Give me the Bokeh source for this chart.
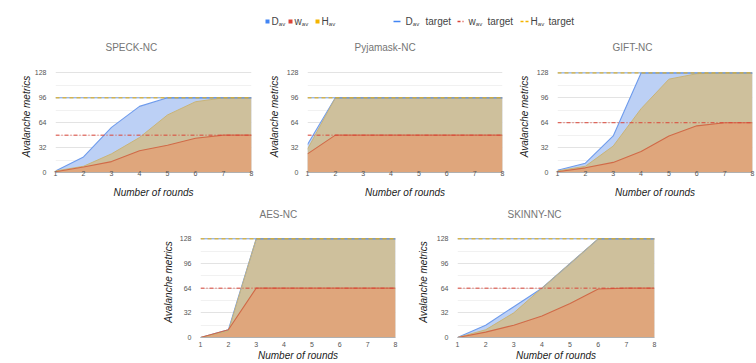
from bokeh.plotting import figure
from bokeh.layouts import column, row, Spacer
from bokeh.models import Range1d, FixedTicker, ColumnDataSource, Span
from bokeh.embed import file_html
from bokeh.resources import INLINE
from bokeh.core.properties import value

# ---------------- data ----------------
rounds = [1, 2, 3, 4, 5, 6, 7, 8]

speck_D = [2, 20, 58, 85, 96, 96, 96, 96]
speck_w = [1, 7, 14, 28, 35, 44, 48, 48]
speck_H = [2, 8, 24, 45, 74, 91, 96, 96]
speck_targets = [96, 48, 96]

pyj_D = [36, 96, 96, 96, 96, 96, 96, 96]
pyj_w = [24, 48, 48, 48, 48, 48, 48, 48]
pyj_H = [30, 96, 96, 96, 96, 96, 96, 96]
pyj_targets = [96, 48, 96]

gift_D = [3, 12, 47, 128, 128, 128, 128, 128]
gift_w = [1, 6, 13, 27, 47, 60, 64, 64]
gift_H = [2, 8, 34, 82, 120, 127, 128, 128]
gift_targets = [128, 64, 128]

aes_D = [0, 10, 128, 128, 128, 128, 128, 128]
aes_w = [0, 10, 64, 64, 64, 64, 64, 64]
aes_H = [0, 8, 128, 128, 128, 128, 128, 128]
aes_targets = [128, 64, 128]

skinny_D = [0, 16, 40, 64, 96, 128, 128, 128]
skinny_w = [0, 7, 16, 28, 44, 63, 64, 64]
skinny_H = [0, 10, 32, 64, 96, 128, 128, 128]
skinny_targets = [128, 64, 128]

y_major = [0, 32, 64, 96, 128]
y_minor = [16, 48, 80, 112, 144]

legend_letters = ["D", "w", "H"]
legend_sub = "av"
legend_target_word = "target"

# ---------------- styles ----------------
FONT = "Liberation Sans"
AREA_D = "#bcd0f5"
AREA_H = "#cec09c"
AREA_W = "#dfa67c"
LINE_D = "#6e9bec"
LINE_H = "#c9b478"
LINE_W = "#d06a48"
T_D = "#4285F4"
T_W = "#DB4437"
T_H = "#F4B400"


def panel(name, D, w, H, targets, width, height, bl, br, bt, bb,
          title_off, title_so, tick_so, xlab_so, ylab_so):
    src = ColumnDataSource(dict(x=rounds, D=D, w=w, H=H, zero=[0] * len(rounds)))
    p = figure(width=width, height=height, x_range=Range1d(1, 8),
               y_range=Range1d(0, 144), output_backend="svg",
               toolbar_location=None, min_border_left=bl, min_border_right=br,
               min_border_top=bt, min_border_bottom=bb)
    p.title.text = name
    p.title.align = "left"
    p.title.offset = title_off
    p.title.text_font = FONT
    p.title.text_font_size = "10px"
    p.title.text_font_style = "normal"
    p.title.text_color = "#757575"
    p.title.standoff = title_so

    p.varea(x="x", y1="zero", y2="D", source=src, fill_color=AREA_D)
    p.varea(x="x", y1="zero", y2="H", source=src, fill_color=AREA_H)
    p.varea(x="x", y1="zero", y2="w", source=src, fill_color=AREA_W)
    p.line(x="x", y="D", source=src, line_color=LINE_D, line_width=1.1)
    p.line(x="x", y="H", source=src, line_color=LINE_H, line_width=1.0)
    p.line(x="x", y="w", source=src, line_color=LINE_W, line_width=1.1)

    p.add_layout(Span(location=targets[0], dimension="width", line_color=T_D,
                      line_width=1, line_alpha=0.7))
    p.add_layout(Span(location=targets[1], dimension="width", line_color=T_W,
                      line_width=1, line_dash="4 2 1 2"))
    p.add_layout(Span(location=targets[2], dimension="width", line_color=T_H,
                      line_width=1, line_dash="4 3"))

    p.xaxis.ticker = FixedTicker(ticks=rounds)
    p.yaxis.ticker = FixedTicker(ticks=y_major, minor_ticks=y_minor)
    for ax in (p.xaxis[0], p.yaxis[0]):
        ax.major_tick_line_color = None
        ax.minor_tick_line_color = None
        ax.major_tick_out = 0
        ax.major_label_text_font = FONT
        ax.major_label_text_font_size = "7px"
        ax.major_label_text_color = "#555555"
        ax.axis_label_text_font = FONT
        ax.axis_label_text_font_size = "10px"
        ax.axis_label_text_font_style = "italic"
        ax.axis_label_text_color = "#222222"
    p.xaxis.axis_label = "Number of rounds"
    p.yaxis.axis_label = "Avalanche metrics"
    p.yaxis.axis_line_color = None
    p.xaxis.axis_line_color = "#b0b0b0"
    p.xaxis.major_label_standoff = tick_so
    p.xaxis.axis_label_standoff = xlab_so
    p.yaxis.major_label_standoff = 5
    p.yaxis.axis_label_standoff = ylab_so
    p.xgrid.grid_line_color = None
    p.ygrid.grid_line_color = "#e3e3e3"
    p.ygrid.minor_grid_line_color = "#f1f1f1"
    p.outline_line_color = None
    return p


# top row: 256 + 250 + 250 = 756, height 172
p1 = panel("SPECK-NC", speck_D, speck_w, speck_H, speck_targets,
           256, 172, 55, 5, 32, 28, 50, 15, -2, 8, 0)
p2 = panel("Pyjamask-NC", pyj_D, pyj_w, pyj_H, pyj_targets,
           250, 172, 51, 4, 32, 28, 47, 15, -2, 8, 4)
p3 = panel("GIFT-NC", gift_D, gift_w, gift_H, gift_targets,
           250, 172, 51, 4, 32, 28, 55, 15, -2, 8, 4)

# bottom row, height 163
p4 = panel("AES-NC", aes_D, aes_w, aes_H, aes_targets,
           255, 163, 50, 10, 26, 26, 59, 13, 4, 0, 3)
p5 = panel("SKINNY-NC", skinny_D, skinny_w, skinny_H, skinny_targets,
           260, 163, 52, 11, 26, 26, 50, 13, 4, 0, 5)

# ---------------- legend ----------------
lg = figure(width=756, height=28, x_range=Range1d(0, 756), y_range=Range1d(0, 28),
            output_backend="svg", toolbar_location=None,
            min_border=0)
lg.axis.visible = False
lg.grid.visible = False
lg.outline_line_color = None

ly = 7
area_cols = [T_D, T_W, T_H]
sq_x = [267, 290, 317]
lab_x = [271, 294, 321]
lg.scatter(x=sq_x, y=[ly] * 3, marker="square", size=4, fill_color=area_cols,
           line_color=None)
lg.text(x=lab_x, y=[ly] * 3, text=legend_letters, text_font=value(FONT),
        text_font_size="10px", text_color="#444444", text_baseline="middle",
        text_align="left")
lg.text(x=[v + 7.3 for v in lab_x], y=[ly - 2.5] * 3, text=[legend_sub] * 3,
        text_font=value(FONT), text_font_size="6px", text_color="#444444",
        text_baseline="middle", text_align="left")

line_x0 = [393, 457, 520]
line_x1 = [400, 465, 528]
dashes = ["solid", "3 2 1 2", "3 2"]
for x0, x1, c, d in zip(line_x0, line_x1, area_cols, dashes):
    lg.segment(x0=[x0], y0=[ly], x1=[x1], y1=[ly], line_color=c, line_width=1.5,
               line_dash=value(d))
tlab_x = [405, 468, 530]
tword_x = [425, 487, 548]
lg.text(x=tlab_x, y=[ly] * 3, text=legend_letters, text_font=value(FONT),
        text_font_size="10px", text_color="#444444", text_baseline="middle",
        text_align="left")
lg.text(x=[v + 7.3 for v in tlab_x], y=[ly - 2.5] * 3, text=[legend_sub] * 3,
        text_font=value(FONT), text_font_size="6px", text_color="#444444",
        text_baseline="middle", text_align="left")
lg.text(x=tword_x, y=[ly] * 3, text=[legend_target_word] * 3, text_font=value(FONT),
        text_font_size="10px", text_color="#444444", text_baseline="middle",
        text_align="left")

layout = column(
    lg,
    row(p1, p2, p3),
    row(Spacer(width=150, height=163), p4, p5, Spacer(width=91, height=163)),
)

open("out.html", "w").write(file_html(layout, INLINE))
